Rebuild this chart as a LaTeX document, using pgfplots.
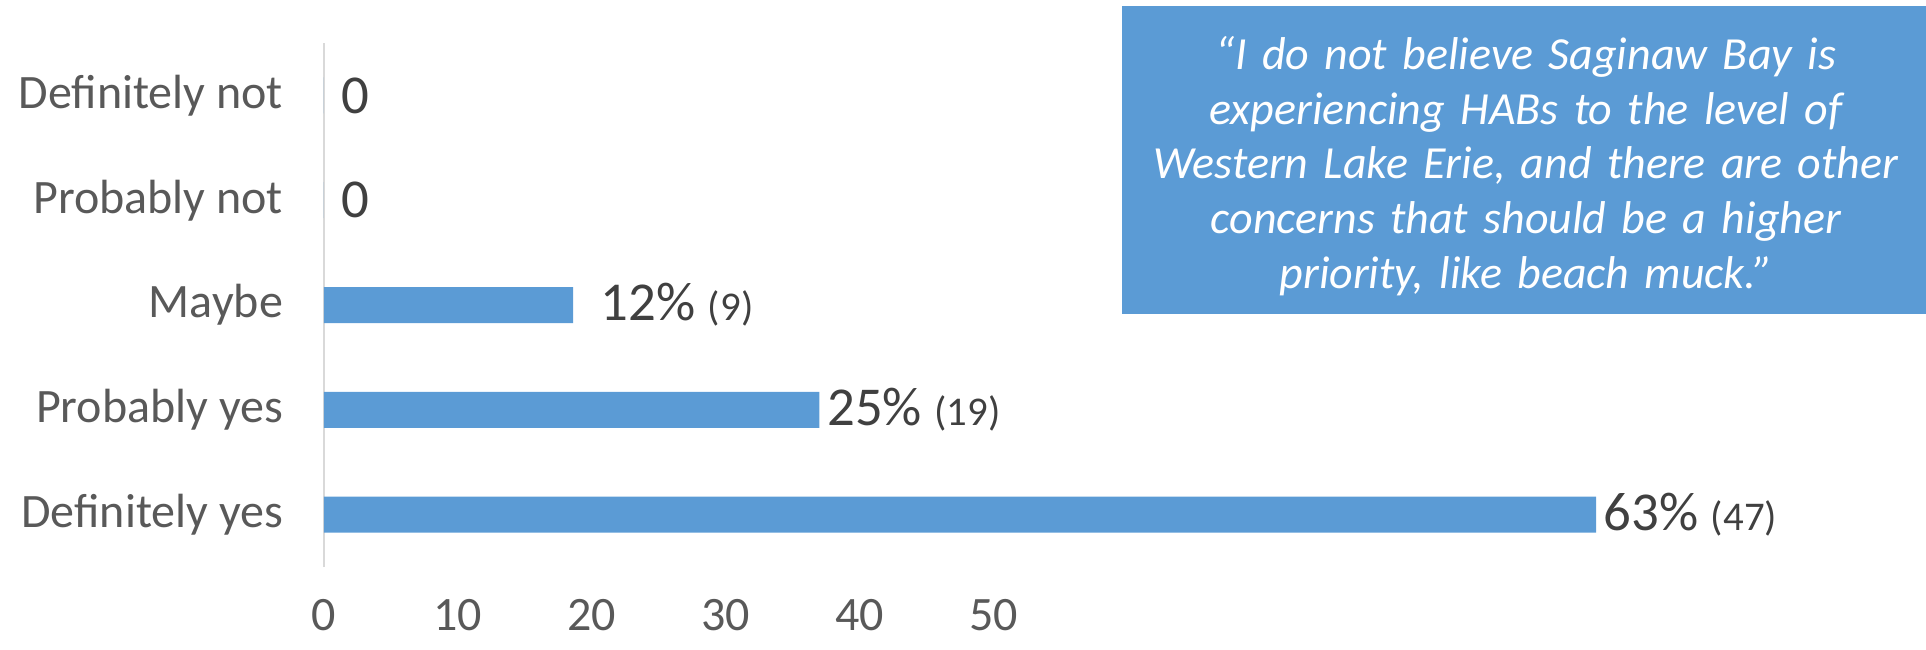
\documentclass[border=0pt]{standalone}
\usepackage{fontspec}
\setmainfont{Carlito}
\usepackage{pgfplots}
\pgfplotsset{compat=1.18}
\definecolor{barblue}{HTML}{5B9BD5}
\definecolor{labgray}{HTML}{595959}
\definecolor{datgray}{HTML}{404040}
\definecolor{axgray}{HTML}{D9D9D9}
\begin{document}
\begin{tikzpicture}
\path[use as bounding box] (-162pt,-41pt) rectangle (801pt,283.5pt);
\begin{axis}[
  at={(0pt,0pt)}, anchor=south west,
  scale only axis, width=669.5pt, height=262pt,
  xbar, bar width=18pt,
  xmin=0, xmax=100, ymin=-0.5, ymax=4.5,
  ytick={0,1,2,3,4},
  yticklabels={Definitely yes, Probably yes, Maybe, Probably not, Definitely not},
  xtick={0,10,20,30,40,50},
  axis y line*=left, axis x line*=bottom,
  x axis line style={draw=none},
  y axis line style={draw=axgray, line width=1pt, -},
  tick style={draw=none}, major tick length=0pt,
  ticklabel style={font=\fontsize{24}{28}\selectfont, text=labgray},
  /pgf/number format/assume math mode=true,
  xticklabel style={yshift=-12.5pt},
  yticklabel style={xshift=-17pt},
  clip=false,
  nodes near coords, point meta=explicit symbolic,
  every node near coord/.append style={anchor=west, inner sep=0pt, xshift=3.7pt, text=datgray, font=\fontsize{27.4}{30}\selectfont},
]
\addplot[fill=barblue, draw=none] coordinates {
 (95,0) [{63\% {\fontsize{20.4}{24}\selectfont(47)}}]
 (37,1) [{25\% {\fontsize{20.4}{24}\selectfont(19)}}]
 (18.6,2) [{\hspace{10pt}12\% {\fontsize{20.4}{24}\selectfont(9)}}]
 (0,3) [{\hspace{5pt}0}]
 (0,4) [{\hspace{5pt}0}]
};
\end{axis}
\fill[barblue] (399pt,126.5pt) rectangle (801pt,280.5pt);
\node[text width=400pt, align=center, text=white, inner sep=0pt, font=\itshape\fontsize{23}{27.4}\selectfont] at (601pt,200.5pt)
{“I do not believe Saginaw Bay is\\ experiencing HABs to the level of\\ Western Lake Erie, and there are other\\ concerns that should be a higher\\ priority, like beach muck.”};
\end{tikzpicture}
\end{document}
